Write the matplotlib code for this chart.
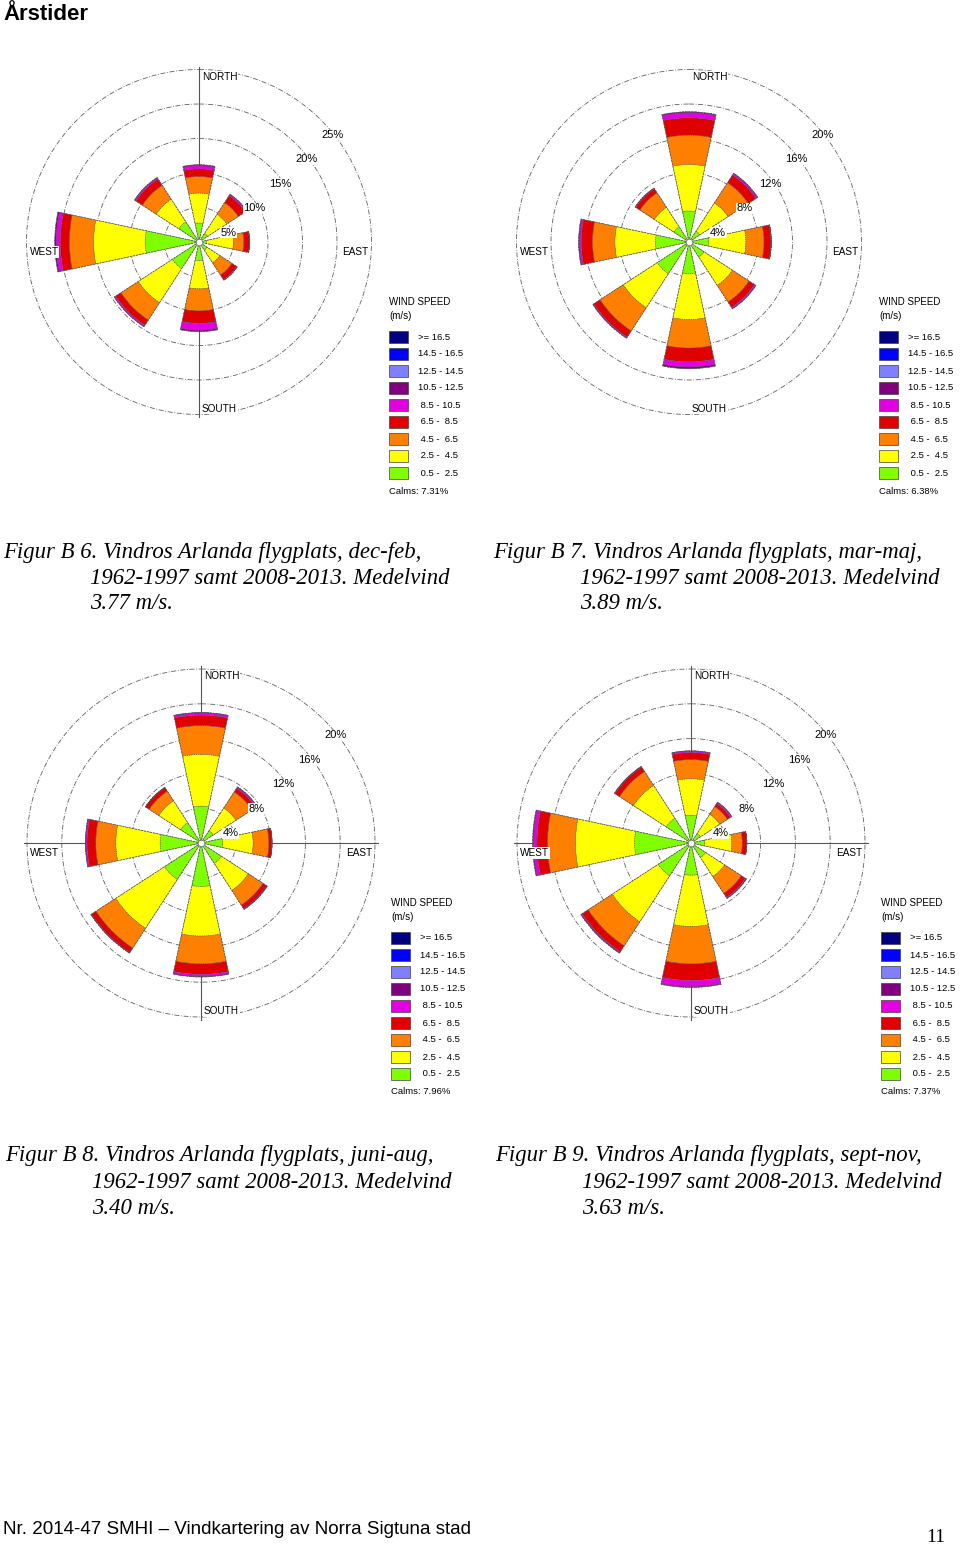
import matplotlib
matplotlib.use("Agg")
import matplotlib.pyplot as plt
import numpy as np
from matplotlib.patches import Rectangle

W_PX, H_PX = 960, 1547

# compass directions (degrees, clockwise from north)
directions = [0, 45, 90, 135, 180, 225, 270, 315]

# speed classes, low to high
speed_labels = [" 0.5 -  2.5", " 2.5 -  4.5", " 4.5 -  6.5", " 6.5 -  8.5", " 8.5 - 10.5",
                "10.5 - 12.5", "12.5 - 14.5", "14.5 - 16.5", ">= 16.5"]
speed_colors = ["#80ff00", "#ffff00", "#ff8000", "#e00000", "#e000e0",
                "#800080", "#8080ff", "#0000ff", "#000080"]

# frequency (%) per direction (N, NE, E, SE, S, SW, W, NW) for each speed class
# columns: 0.5-2.5, 2.5-4.5, 4.5-6.5, 6.5-8.5, 8.5-10.5, 10.5-12.5
freq_decfeb = [
    [2.75, 4.35, 2.4, 1.1, 0.5, 0.1],
    [1.5, 3.3, 2.0, 1.2, 0.2, 0.05],
    [1.1, 3.9, 1.5, 0.8, 0.05, 0.0],
    [1.4, 2.2, 2.1, 0.8, 0.1, 0.0],
    [2.7, 4.1, 3.2, 1.8, 1.0, 0.2],
    [4.6, 5.9, 3.0, 0.9, 0.2, 0.05],
    [7.8, 7.5, 3.5, 1.3, 0.6, 0.2],
    [3.5, 3.9, 2.4, 1.1, 0.2, 0.05],
]
freq_marmaj = [
    [3.6, 5.4, 3.4, 2.0, 0.6, 0.1],
    [1.5, 3.9, 2.8, 1.05, 0.2, 0.05],
    [2.3, 4.3, 2.1, 0.8, 0.05, 0.0],
    [2.1, 3.9, 2.3, 0.75, 0.15, 0.05],
    [3.7, 5.3, 3.3, 1.6, 0.6, 0.2],
    [4.4, 4.7, 3.2, 0.85, 0.1, 0.05],
    [3.9, 4.7, 2.6, 1.3, 0.2, 0.1],
    [2.1, 2.7, 2.0, 0.55, 0.05, 0.05],
]
freq_juniaug = [
    [4.25, 5.95, 3.3, 1.2, 0.25, 0.05],
    [1.7, 3.1, 2.2, 0.5, 0.15, 0.05],
    [2.5, 3.5, 1.8, 0.35, 0.02, 0.0],
    [2.8, 3.7, 2.0, 0.5, 0.05, 0.05],
    [5.0, 5.7, 3.2, 1.2, 0.25, 0.05],
    [5.0, 6.7, 2.7, 0.6, 0.05, 0.05],
    [4.7, 5.1, 2.3, 1.0, 0.15, 0.05],
    [2.8, 3.0, 1.3, 0.5, 0.02, 0.0],
]
freq_septnov = [
    [3.2, 4.2, 2.2, 0.8, 0.15, 0.05],
    [1.3, 2.65, 1.05, 0.4, 0.15, 0.05],
    [1.6, 3.1, 1.2, 0.5, 0.02, 0.0],
    [2.0, 2.6, 2.3, 0.55, 0.1, 0.05],
    [3.7, 5.9, 4.3, 1.9, 0.7, 0.1],
    [4.5, 6.3, 3.3, 0.8, 0.1, 0.1],
    [6.5, 6.8, 3.2, 1.2, 0.4, 0.1],
    [3.4, 4.5, 1.9, 0.6, 0.05, 0.05],
]

ring_ticks = [[5, 10, 15, 20, 25], [4, 8, 12, 16, 20], [4, 8, 12, 16, 20], [4, 8, 12, 16, 20]]
calms = ["7.31%", "6.38%", "7.96%", "7.37%"]
figure_numbers = ["B 6", "B 7", "B 8", "B 9"]
periods = ["dec-feb", "mar-maj", "juni-aug", "sept-nov"]
mean_wind = ["3.77", "3.89", "3.40", "3.63"]

# layout of each rose: centre and radius in pixels, which axis lines show
rose_layout = [
    dict(cx=199, cy=242, R=172.5, vline=True, hline=False, cap_y=552),
    dict(cx=689, cy=242, R=172.5, vline=False, hline=False, cap_y=552),
    dict(cx=201, cy=843, R=174.0, vline=True, hline=True, cap_y=1156),
    dict(cx=691, cy=843, R=174.0, vline=True, hline=True, cap_y=1156),
]

SANS = "Liberation Sans"
SERIF = "Liberation Serif"
EDGE_LS = (0, (3, 1.5))


def fx(x):
    return x / W_PX


def fy(y):
    return 1 - y / H_PX


def draw_rose(fig, freq, ticks, lay):
    cx, cy, R = lay["cx"], lay["cy"], lay["R"]
    rmax = ticks[-1]
    ax = fig.add_axes([fx(cx - R), fy(cy + R), 2 * R / W_PX, 2 * R / H_PX],
                      projection="polar")
    ax.set_theta_zero_location("N")
    ax.set_theta_direction(-1)
    ax.set_ylim(0, rmax)
    ax.set_xticks([])
    ax.set_yticks([])
    ax.grid(False)
    ax.spines["polar"].set_visible(False)
    ax.patch.set_alpha(0)

    # dash-dot rings
    th = np.linspace(0, 2 * np.pi, 400)
    for t in ticks:
        ax.plot(th, np.full_like(th, t), color="#606060", lw=0.6,
                ls=(0, (6, 2, 1, 2)), zorder=0.5, clip_on=False)
    if lay["vline"]:
        for a in (0, np.pi):
            ax.plot([a, a], [0, rmax * 1.015], color="#555555", lw=0.8,
                    zorder=0.6, clip_on=False)
    if lay["hline"]:
        for a in (np.pi / 2, 3 * np.pi / 2):
            ax.plot([a, a], [0, rmax * 1.015], color="#555555", lw=0.8,
                    zorder=0.6, clip_on=False)

    theta = np.deg2rad(directions)
    width = np.deg2rad(24)
    data = np.array(freq)
    bottom = np.zeros(len(directions))
    for k in range(data.shape[1]):
        ax.bar(theta, data[:, k], width=width, bottom=bottom,
               color=speed_colors[k], edgecolor="#505050", lw=0.35,
               ls=EDGE_LS, zorder=2)
        bottom = bottom + data[:, k]
    ax.bar(theta, bottom, width=width, fill=False, edgecolor="#505050",
           lw=0.5, ls=EDGE_LS, zorder=3)
    ax.scatter([0], [0], s=22, c="white", edgecolors="#707070",
               linewidths=0.5, zorder=4)

    # compass labels
    box = dict(facecolor="white", edgecolor="none", pad=0.6)
    fs = 7.2
    fig.text(fx(cx + 3), fy(cy - R + 7), "NORTH", ha="left", va="center",
             fontsize=fs, family=SANS, bbox=box, zorder=5)
    fig.text(fx(cx + 3), fy(cy + R - 6), "SOUTH", ha="left", va="center",
             fontsize=fs, family=SANS, bbox=box, zorder=5)
    fig.text(fx(cx - R + 3), fy(cy + 10), "WEST", ha="left", va="center",
             fontsize=fs, family=SANS, bbox=box, zorder=5)
    fig.text(fx(cx + R - 3), fy(cy + 10), "EAST", ha="right", va="center",
             fontsize=fs, family=SANS, bbox=box, zorder=5)

    # ring labels
    for t in ticks:
        r = t / rmax * R
        lx = cx + r * np.cos(np.pi / 4) + 3 + 0.05 * r
        ly = cy - r * np.sin(np.pi / 4) + 15
        fig.text(fx(lx), fy(ly), f"{t}%", ha="center", va="center",
                 fontsize=8, family=SANS, zorder=5,
                 bbox=dict(facecolor="white", edgecolor="none", pad=0.3))


def draw_legend(fig, lay, calm):
    lx = lay["cx"] + 190
    ly = lay["cy"]
    fig.text(fx(lx), fy(ly + 60), "WIND SPEED", ha="left", va="center",
             fontsize=7, family=SANS)
    fig.text(fx(lx), fy(ly + 74), "(m/s)", ha="left", va="center",
             fontsize=7, family=SANS)
    order = list(range(len(speed_labels)))[::-1]
    for i, k in enumerate(order):
        yc = ly + 95 + 17 * i
        fig.patches.append(Rectangle((fx(lx), fy(yc + 6)), 19 / W_PX, 12 / H_PX,
                                     transform=fig.transFigure, facecolor=speed_colors[k],
                                     edgecolor="#404040", lw=0.5))
        fig.text(fx(lx + 29), fy(yc), speed_labels[k], ha="left", va="center",
                 fontsize=6.8, family=SANS)
    fig.text(fx(lx), fy(ly + 249), f"Calms: {calm}", ha="left", va="center",
             fontsize=6.8, family=SANS)


def draw_caption(fig, lay, num, period, mean):
    x0 = lay["cx"] - 196
    y0 = lay["cap_y"]
    kw = dict(ha="left", va="center", fontsize=16.4, family=SERIF, style="italic")
    fig.text(fx(x0), fy(y0), f"Figur {num}. Vindros Arlanda flygplats, {period},", **kw)
    fig.text(fx(x0 + 87), fy(y0 + 26), "1962-1997 samt 2008-2013. Medelvind", **kw)
    fig.text(fx(x0 + 87), fy(y0 + 52), f"{mean} m/s.", **kw)


def main():
    fig = plt.figure(figsize=(W_PX / 100, H_PX / 100), dpi=100)
    fig.patch.set_facecolor("white")

    fig.text(fx(3), fy(14), "Årstider", ha="left", va="center", fontsize=16,
             fontweight="bold", family=SANS)

    all_freq = [freq_decfeb, freq_marmaj, freq_juniaug, freq_septnov]
    for i in range(4):
        lay = rose_layout[i]
        draw_rose(fig, all_freq[i], ring_ticks[i], lay)
        draw_legend(fig, lay, calms[i])
        draw_caption(fig, lay, figure_numbers[i], periods[i], mean_wind[i])

    fig.text(fx(3), fy(1530), "Nr. 2014-47 SMHI \u2013 Vindkartering av Norra Sigtuna stad",
             ha="left", va="center", fontsize=13.5,
             family=["Liberation Sans Narrow", "Liberation Sans"])
    fig.text(fx(945), fy(1537), "11", ha="right", va="center", fontsize=14,
             family=SERIF)

    fig.savefig("out.png", dpi=100, facecolor="white")
    plt.close(fig)


if __name__ == "__main__":
    main()
